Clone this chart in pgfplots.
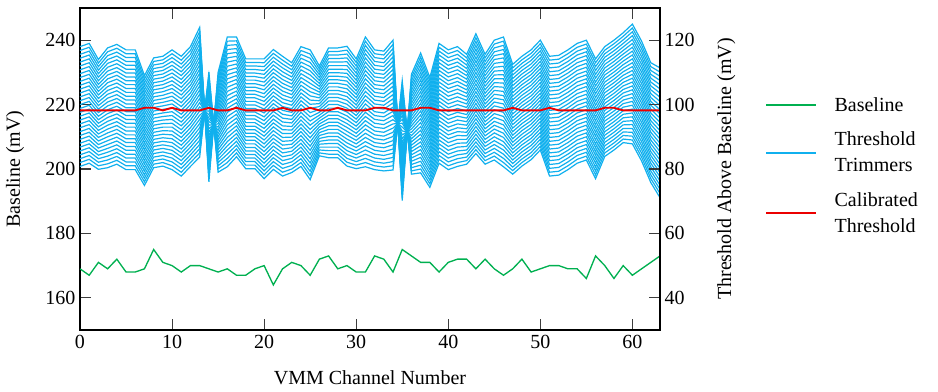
\documentclass[border=0pt]{standalone}
\usepackage{pgfplots}
\usepackage{pgfplotstable}
\pgfplotsset{compat=1.18}
\usepackage{fontspec}
\setmainfont{Liberation Serif}
\definecolor{trimblue}{RGB}{16,176,238}
\definecolor{basegreen}{RGB}{0,176,80}
\definecolor{calred}{RGB}{235,0,0}
\definecolor{tickgray}{RGB}{60,60,60}

\pgfplotstableread{
c t0 t1 t2 t3 t4 t5 t6 t7 t8 t9 t10 t11 t12 t13 t14 t15 t16 t17 t18 t19 t20 t21 t22 t23 t24 t25 t26 t27 t28 t29 t30 t31
0 238.0 236.8 235.6 234.4 233.2 232.0 230.8 229.6 228.4 227.2 226.0 224.8 223.6 222.4 221.2 220.0 218.8 217.6 216.4 215.2 214.0 212.8 211.6 210.4 209.2 208.0 206.8 205.6 204.4 203.2 202.0 200.8
1 239.0 237.8 236.6 235.4 234.2 233.0 231.8 230.6 229.4 228.2 227.0 225.8 224.6 223.4 222.2 221.0 219.8 218.6 217.4 216.2 215.0 213.8 212.6 211.4 210.2 209.0 207.8 206.6 205.4 204.2 203.0 201.8
2 234.0 232.9 231.8 230.7 229.6 228.5 227.4 226.3 225.2 224.1 223.0 221.9 220.8 219.7 218.6 217.5 216.4 215.3 214.2 213.1 212.0 210.9 209.8 208.7 207.6 206.5 205.4 204.3 203.2 202.1 201.0 199.9
3 237.6 236.4 235.2 234.0 232.8 231.6 230.4 229.2 228.0 226.8 225.6 224.4 223.2 222.0 220.8 219.6 218.4 217.2 216.0 214.8 213.6 212.4 211.2 210.0 208.8 207.6 206.4 205.2 204.0 202.8 201.6 200.4
4 238.7 237.5 236.3 235.1 233.9 232.7 231.5 230.3 229.1 227.9 226.7 225.5 224.3 223.1 221.9 220.7 219.5 218.3 217.1 215.9 214.7 213.5 212.3 211.1 209.9 208.7 207.5 206.3 205.1 203.9 202.7 201.5
5 237.0 235.8 234.6 233.4 232.2 231.0 229.8 228.6 227.4 226.2 225.0 223.8 222.6 221.4 220.2 219.0 217.8 216.6 215.4 214.2 213.0 211.8 210.6 209.4 208.2 207.0 205.8 204.6 203.4 202.2 201.0 199.8
6 237.0 235.8 234.6 233.4 232.2 231.0 229.8 228.6 227.4 226.2 225.0 223.8 222.6 221.4 220.2 219.0 217.8 216.6 215.4 214.2 213.0 211.8 210.6 209.4 208.2 207.0 205.8 204.6 203.4 202.2 201.0 199.8
7 229.0 227.9 226.8 225.7 224.6 223.5 222.4 221.3 220.2 219.1 218.0 216.9 215.8 214.7 213.6 212.5 211.4 210.3 209.2 208.1 207.0 205.9 204.8 203.7 202.6 201.5 200.4 199.3 198.2 197.1 196.0 194.9
8 234.5 233.4 232.3 231.2 230.1 229.0 227.9 226.8 225.7 224.6 223.5 222.4 221.3 220.2 219.1 218.0 216.9 215.8 214.7 213.6 212.5 211.4 210.3 209.2 208.1 207.0 205.9 204.8 203.7 202.6 201.5 200.4
9 235.0 233.9 232.8 231.7 230.6 229.5 228.4 227.3 226.2 225.1 224.0 222.9 221.8 220.7 219.6 218.5 217.4 216.3 215.2 214.1 213.0 211.9 210.8 209.7 208.6 207.5 206.4 205.3 204.2 203.1 202.0 200.9
10 237.0 235.8 234.6 233.4 232.2 231.0 229.8 228.6 227.4 226.2 225.0 223.8 222.6 221.4 220.2 219.0 217.8 216.6 215.4 214.2 213.0 211.8 210.6 209.4 208.2 207.0 205.8 204.6 203.4 202.2 201.0 199.8
11 235.0 233.8 232.6 231.4 230.2 229.0 227.8 226.6 225.4 224.2 223.0 221.8 220.6 219.4 218.2 217.0 215.8 214.6 213.4 212.2 211.0 209.8 208.6 207.4 206.2 205.0 203.8 202.6 201.4 200.2 199.0 197.8
12 238.0 236.8 235.6 234.4 233.2 232.0 230.8 229.6 228.4 227.2 226.0 224.8 223.6 222.4 221.2 220.0 218.8 217.6 216.4 215.2 214.0 212.8 211.6 210.4 209.2 208.0 206.8 205.6 204.4 203.2 202.0 200.8
13 244.0 242.7 241.4 240.1 238.8 237.5 236.2 234.9 233.6 232.3 231.0 229.7 228.4 227.1 225.8 224.5 223.2 221.9 220.6 219.3 218.0 216.7 215.4 214.1 212.8 211.5 210.2 208.9 207.6 206.3 205.0 203.7
14 196.0 197.1 198.2 199.3 200.4 201.5 202.6 203.7 204.8 205.9 207.0 208.1 209.2 210.3 211.4 212.5 213.6 214.7 215.8 216.9 218.0 219.1 220.2 221.3 222.4 223.5 224.6 225.7 226.8 227.9 229.0 230.1
15 230 229 228 227 226 225 224 223 222 221 220 219 218 217 216 215 214 213 212 211 210 209 208 207 206 205 204 203 202 201 200 199
16 241.0 239.7 238.4 237.1 235.8 234.5 233.2 231.9 230.6 229.3 228.0 226.7 225.4 224.1 222.8 221.5 220.2 218.9 217.6 216.3 215.0 213.7 212.4 211.1 209.8 208.5 207.2 205.9 204.6 203.3 202.0 200.7
17 241.0 239.8 238.6 237.4 236.2 235.0 233.8 232.6 231.4 230.2 229.0 227.8 226.6 225.4 224.2 223.0 221.8 220.6 219.4 218.2 217.0 215.8 214.6 213.4 212.2 211.0 209.8 208.6 207.4 206.2 205.0 203.8
18 234.2 233.1 232.0 230.9 229.8 228.7 227.6 226.5 225.4 224.3 223.2 222.1 221.0 219.9 218.8 217.7 216.6 215.5 214.4 213.3 212.2 211.1 210.0 208.9 207.8 206.7 205.6 204.5 203.4 202.3 201.2 200.1
19 234.2 233.1 232.0 230.9 229.8 228.7 227.6 226.5 225.4 224.3 223.2 222.1 221.0 219.9 218.8 217.7 216.6 215.5 214.4 213.3 212.2 211.1 210.0 208.9 207.8 206.7 205.6 204.5 203.4 202.3 201.2 200.1
20 234.2 233.0 231.8 230.6 229.4 228.2 227.0 225.8 224.6 223.4 222.2 221.0 219.8 218.6 217.4 216.2 215.0 213.8 212.6 211.4 210.2 209.0 207.8 206.6 205.4 204.2 203.0 201.8 200.6 199.4 198.2 197.0
21 237.1 235.9 234.7 233.5 232.3 231.1 229.9 228.7 227.5 226.3 225.1 223.9 222.7 221.5 220.3 219.1 217.9 216.7 215.5 214.3 213.1 211.9 210.7 209.5 208.3 207.1 205.9 204.7 203.5 202.3 201.1 199.9
22 235.0 233.8 232.6 231.4 230.2 229.0 227.8 226.6 225.4 224.2 223.0 221.8 220.6 219.4 218.2 217.0 215.8 214.6 213.4 212.2 211.0 209.8 208.6 207.4 206.2 205.0 203.8 202.6 201.4 200.2 199.0 197.8
23 233.0 231.9 230.8 229.7 228.6 227.5 226.4 225.3 224.2 223.1 222.0 220.9 219.8 218.7 217.6 216.5 215.4 214.3 213.2 212.1 211.0 209.9 208.8 207.7 206.6 205.5 204.4 203.3 202.2 201.1 200.0 198.9
24 238.0 236.8 235.6 234.4 233.2 232.0 230.8 229.6 228.4 227.2 226.0 224.8 223.6 222.4 221.2 220.0 218.8 217.6 216.4 215.2 214.0 212.8 211.6 210.4 209.2 208.0 206.8 205.6 204.4 203.2 202.0 200.8
25 237.0 235.7 234.4 233.1 231.8 230.5 229.2 227.9 226.6 225.3 224.0 222.7 221.4 220.1 218.8 217.5 216.2 214.9 213.6 212.3 211.0 209.7 208.4 207.1 205.8 204.5 203.2 201.9 200.6 199.3 198.0 196.7
26 232.0 231.1 230.2 229.3 228.4 227.5 226.6 225.7 224.8 223.9 223.0 222.1 221.2 220.3 219.4 218.5 217.6 216.7 215.8 214.9 214.0 213.1 212.2 211.3 210.4 209.5 208.6 207.7 206.8 205.9 205.0 204.1
27 237.6 236.5 235.4 234.3 233.2 232.1 231.0 229.9 228.8 227.7 226.6 225.5 224.4 223.3 222.2 221.1 220.0 218.9 217.8 216.7 215.6 214.5 213.4 212.3 211.2 210.1 209.0 207.9 206.8 205.7 204.6 203.5
28 237.6 236.5 235.4 234.3 233.2 232.1 231.0 229.9 228.8 227.7 226.6 225.5 224.4 223.3 222.2 221.1 220.0 218.9 217.8 216.7 215.6 214.5 213.4 212.3 211.2 210.1 209.0 207.9 206.8 205.7 204.6 203.5
29 238.1 236.9 235.7 234.5 233.3 232.1 230.9 229.7 228.5 227.3 226.1 224.9 223.7 222.5 221.3 220.1 218.9 217.7 216.5 215.3 214.1 212.9 211.7 210.5 209.3 208.1 206.9 205.7 204.5 203.3 202.1 200.9
30 234.2 233.1 232.0 230.9 229.8 228.7 227.6 226.5 225.4 224.3 223.2 222.1 221.0 219.9 218.8 217.7 216.6 215.5 214.4 213.3 212.2 211.1 210.0 208.9 207.8 206.7 205.6 204.5 203.4 202.3 201.2 200.1
31 241.0 239.7 238.4 237.1 235.8 234.5 233.2 231.9 230.6 229.3 228.0 226.7 225.4 224.1 222.8 221.5 220.2 218.9 217.6 216.3 215.0 213.7 212.4 211.1 209.8 208.5 207.2 205.9 204.6 203.3 202.0 200.7
32 237.0 235.8 234.6 233.4 232.2 231.0 229.8 228.6 227.4 226.2 225.0 223.8 222.6 221.4 220.2 219.0 217.8 216.6 215.4 214.2 213.0 211.8 210.6 209.4 208.2 207.0 205.8 204.6 203.4 202.2 201.0 199.8
33 236.6 235.4 234.2 233.0 231.8 230.6 229.4 228.2 227.0 225.8 224.6 223.4 222.2 221.0 219.8 218.6 217.4 216.2 215.0 213.8 212.6 211.4 210.2 209.0 207.8 206.6 205.4 204.2 203.0 201.8 200.6 199.4
34 240.0 238.7 237.4 236.1 234.8 233.5 232.2 230.9 229.6 228.3 227.0 225.7 224.4 223.1 221.8 220.5 219.2 217.9 216.6 215.3 214.0 212.7 211.4 210.1 208.8 207.5 206.2 204.9 203.6 202.3 201.0 199.7
35 190.2 191.4 192.6 193.8 195.0 196.2 197.4 198.6 199.8 201.0 202.2 203.4 204.6 205.8 207.0 208.2 209.4 210.6 211.8 213.0 214.2 215.4 216.6 217.8 219.0 220.2 221.4 222.6 223.8 225.0 226.2 227.4
36 229.4 228.4 227.4 226.4 225.4 224.4 223.4 222.4 221.4 220.4 219.4 218.4 217.4 216.4 215.4 214.4 213.4 212.4 211.4 210.4 209.4 208.4 207.4 206.4 205.4 204.4 203.4 202.4 201.4 200.4 199.4 198.4
37 236.0 234.8 233.6 232.4 231.2 230.0 228.8 227.6 226.4 225.2 224.0 222.8 221.6 220.4 219.2 218.0 216.8 215.6 214.4 213.2 212.0 210.8 209.6 208.4 207.2 206.0 204.8 203.6 202.4 201.2 200.0 198.8
38 228.4 227.3 226.2 225.1 224.0 222.9 221.8 220.7 219.6 218.5 217.4 216.3 215.2 214.1 213.0 211.9 210.8 209.7 208.6 207.5 206.4 205.3 204.2 203.1 202.0 200.9 199.8 198.7 197.6 196.5 195.4 194.3
39 239.0 237.8 236.6 235.4 234.2 233.0 231.8 230.6 229.4 228.2 227.0 225.8 224.6 223.4 222.2 221.0 219.8 218.6 217.4 216.2 215.0 213.8 212.6 211.4 210.2 209.0 207.8 206.6 205.4 204.2 203.0 201.8
40 237.0 235.8 234.6 233.4 232.2 231.0 229.8 228.6 227.4 226.2 225.0 223.8 222.6 221.4 220.2 219.0 217.8 216.6 215.4 214.2 213.0 211.8 210.6 209.4 208.2 207.0 205.8 204.6 203.4 202.2 201.0 199.8
41 238.0 236.8 235.6 234.4 233.2 232.0 230.8 229.6 228.4 227.2 226.0 224.8 223.6 222.4 221.2 220.0 218.8 217.6 216.4 215.2 214.0 212.8 211.6 210.4 209.2 208.0 206.8 205.6 204.4 203.2 202.0 200.8
42 235.6 234.5 233.4 232.3 231.2 230.1 229.0 227.9 226.8 225.7 224.6 223.5 222.4 221.3 220.2 219.1 218.0 216.9 215.8 214.7 213.6 212.5 211.4 210.3 209.2 208.1 207.0 205.9 204.8 203.7 202.6 201.5
43 242.0 240.8 239.6 238.4 237.2 236.0 234.8 233.6 232.4 231.2 230.0 228.8 227.6 226.4 225.2 224.0 222.8 221.6 220.4 219.2 218.0 216.8 215.6 214.4 213.2 212.0 210.8 209.6 208.4 207.2 206.0 204.8
44 235.6 234.5 233.4 232.3 231.2 230.1 229.0 227.9 226.8 225.7 224.6 223.5 222.4 221.3 220.2 219.1 218.0 216.9 215.8 214.7 213.6 212.5 211.4 210.3 209.2 208.1 207.0 205.9 204.8 203.7 202.6 201.5
45 240.0 238.8 237.6 236.4 235.2 234.0 232.8 231.6 230.4 229.2 228.0 226.8 225.6 224.4 223.2 222.0 220.8 219.6 218.4 217.2 216.0 214.8 213.6 212.4 211.2 210.0 208.8 207.6 206.4 205.2 204.0 202.8
46 241.0 239.7 238.4 237.1 235.8 234.5 233.2 231.9 230.6 229.3 228.0 226.7 225.4 224.1 222.8 221.5 220.2 218.9 217.6 216.3 215.0 213.7 212.4 211.1 209.8 208.5 207.2 205.9 204.6 203.3 202.0 200.7
47 232.5 231.4 230.3 229.2 228.1 227.0 225.9 224.8 223.7 222.6 221.5 220.4 219.3 218.2 217.1 216.0 214.9 213.8 212.7 211.6 210.5 209.4 208.3 207.2 206.1 205.0 203.9 202.8 201.7 200.6 199.5 198.4
48 235.0 233.9 232.8 231.7 230.6 229.5 228.4 227.3 226.2 225.1 224.0 222.9 221.8 220.7 219.6 218.5 217.4 216.3 215.2 214.1 213.0 211.9 210.8 209.7 208.6 207.5 206.4 205.3 204.2 203.1 202.0 200.9
49 237.0 235.9 234.8 233.7 232.6 231.5 230.4 229.3 228.2 227.1 226.0 224.9 223.8 222.7 221.6 220.5 219.4 218.3 217.2 216.1 215.0 213.9 212.8 211.7 210.6 209.5 208.4 207.3 206.2 205.1 204.0 202.9
50 240.0 238.9 237.8 236.7 235.6 234.5 233.4 232.3 231.2 230.1 229.0 227.9 226.8 225.7 224.6 223.5 222.4 221.3 220.2 219.1 218.0 216.9 215.8 214.7 213.6 212.5 211.4 210.3 209.2 208.1 207.0 205.9
51 235.0 233.8 232.6 231.4 230.2 229.0 227.8 226.6 225.4 224.2 223.0 221.8 220.6 219.4 218.2 217.0 215.8 214.6 213.4 212.2 211.0 209.8 208.6 207.4 206.2 205.0 203.8 202.6 201.4 200.2 199.0 197.8
52 235.3 234.1 232.9 231.7 230.5 229.3 228.1 226.9 225.7 224.5 223.3 222.1 220.9 219.7 218.5 217.3 216.1 214.9 213.7 212.5 211.3 210.1 208.9 207.7 206.5 205.3 204.1 202.9 201.7 200.5 199.3 198.1
53 237.0 235.8 234.6 233.4 232.2 231.0 229.8 228.6 227.4 226.2 225.0 223.8 222.6 221.4 220.2 219.0 217.8 216.6 215.4 214.2 213.0 211.8 210.6 209.4 208.2 207.0 205.8 204.6 203.4 202.2 201.0 199.8
54 239.0 237.8 236.6 235.4 234.2 233.0 231.8 230.6 229.4 228.2 227.0 225.8 224.6 223.4 222.2 221.0 219.8 218.6 217.4 216.2 215.0 213.8 212.6 211.4 210.2 209.0 207.8 206.6 205.4 204.2 203.0 201.8
55 240.0 238.8 237.6 236.4 235.2 234.0 232.8 231.6 230.4 229.2 228.0 226.8 225.6 224.4 223.2 222.0 220.8 219.6 218.4 217.2 216.0 214.8 213.6 212.4 211.2 210.0 208.8 207.6 206.4 205.2 204.0 202.8
56 234.2 233.0 231.8 230.6 229.4 228.2 227.0 225.8 224.6 223.4 222.2 221.0 219.8 218.6 217.4 216.2 215.0 213.8 212.6 211.4 210.2 209.0 207.8 206.6 205.4 204.2 203.0 201.8 200.6 199.4 198.2 197.0
57 238.0 236.9 235.8 234.7 233.6 232.5 231.4 230.3 229.2 228.1 227.0 225.9 224.8 223.7 222.6 221.5 220.4 219.3 218.2 217.1 216.0 214.9 213.8 212.7 211.6 210.5 209.4 208.3 207.2 206.1 205.0 203.9
58 240.0 238.9 237.8 236.7 235.6 234.5 233.4 232.3 231.2 230.1 229.0 227.9 226.8 225.7 224.6 223.5 222.4 221.3 220.2 219.1 218.0 216.9 215.8 214.7 213.6 212.5 211.4 210.3 209.2 208.1 207.0 205.9
59 242.3 241.2 240.1 239.0 237.9 236.8 235.7 234.6 233.5 232.4 231.3 230.2 229.1 228.0 226.9 225.8 224.7 223.6 222.5 221.4 220.3 219.2 218.1 217.0 215.9 214.8 213.7 212.6 211.5 210.4 209.3 208.2
60 245.0 243.8 242.6 241.4 240.2 239.0 237.8 236.6 235.4 234.2 233.0 231.8 230.6 229.4 228.2 227.0 225.8 224.6 223.4 222.2 221.0 219.8 218.6 217.4 216.2 215.0 213.8 212.6 211.4 210.2 209.0 207.8
61 239.7 238.5 237.3 236.1 234.9 233.7 232.5 231.3 230.1 228.9 227.7 226.5 225.3 224.1 222.9 221.7 220.5 219.3 218.1 216.9 215.7 214.5 213.3 212.1 210.9 209.7 208.5 207.3 206.1 204.9 203.7 202.5
62 233.0 231.8 230.6 229.4 228.2 227.0 225.8 224.6 223.4 222.2 221.0 219.8 218.6 217.4 216.2 215.0 213.8 212.6 211.4 210.2 209.0 207.8 206.6 205.4 204.2 203.0 201.8 200.6 199.4 198.2 197.0 195.8
63 231.4 230.1 228.8 227.5 226.2 224.9 223.6 222.3 221.0 219.7 218.4 217.1 215.8 214.5 213.2 211.9 210.6 209.3 208.0 206.7 205.4 204.1 202.8 201.5 200.2 198.9 197.6 196.3 195.0 193.7 192.4 191.1
}\trimtab

\pgfplotstableread{
c base cal
0 169 218.2
1 167 218.2
2 171 218.2
3 169 218.2
4 172 218.2
5 168 218.2
6 168 218.2
7 169 219.0
8 175 219.0
9 171 218.2
10 170 219.0
11 168 218.2
12 170 218.2
13 170 218.2
14 169 219.0
15 168 218.2
16 169 218.2
17 167 219.0
18 167 218.2
19 169 218.2
20 170 218.2
21 164 218.2
22 169 219.0
23 171 218.2
24 170 218.2
25 167 219.0
26 172 218.2
27 173 218.2
28 169 219.0
29 170 218.2
30 168 218.2
31 168 218.2
32 173 219.0
33 172 219.0
34 168 218.2
35 175 218.2
36 173 218.2
37 171 219.0
38 171 219.0
39 168 218.2
40 171 218.2
41 172 218.2
42 172 218.2
43 169 218.2
44 172 218.2
45 169 218.2
46 167 218.2
47 169 219.0
48 172 218.2
49 168 218.2
50 169 218.2
51 170 219.0
52 170 218.2
53 169 218.2
54 169 218.2
55 166 218.2
56 173 218.2
57 170 219.0
58 166 219.0
59 170 218.2
60 167 218.2
61 169 218.2
62 171 218.2
63 173 218.2
}\basetab

\begin{document}
\begin{tikzpicture}[font=\fontsize{15}{19.5}\selectfont]
\pgfplotsset{
  common/.style={
    width=435pt, height=241.5pt, scale only axis,
    xmin=0, xmax=63,
    tick align=inside,
    major tick length=8pt,
    tick style={color=tickgray, line width=0.8pt},
    axis line style={line width=1.2pt},
    tick label style={font=\fontsize{15}{18}\selectfont},
    label style={font=\fontsize{15}{18}\selectfont},
    /pgf/number format/assume math mode=true,
  },
}
\begin{axis}[common, name=ax,
  ymin=150, ymax=250,
  ytick={160,180,...,240},
  xtick={0,10,...,60},
  xtick pos=both, ytick pos=left,
  xlabel={VMM Channel Number},
  ylabel={Baseline (mV)},
  xlabel style={yshift=-10pt},
  ylabel style={yshift=9pt},
  legend style={draw=none, fill=none, at={(1.181,0.51)}, anchor=west,
    inner sep=0pt, font=\fontsize{15}{19.5}\selectfont,
    nodes={align=left},
    /tikz/every odd column/.append style={column sep=11pt},
    row sep=10pt},
  legend cell align=left,
]
\pgfplotsinvokeforeach{0,...,31}{
  \addplot[trimblue, line width=0.9pt, forget plot] table[x=c, y=t#1]{\trimtab};
}
\addplot[calred, line width=1.4pt, forget plot] table[x=c, y=cal]{\basetab};
\addplot[basegreen, line width=1pt, forget plot] table[x=c, y=base]{\basetab};
\addlegendimage{legend image code/.code={\draw[draw=basegreen, line width=1.5pt] (0pt,0pt) -- (37.5pt,0pt);}}
\addlegendentry{Baseline}
\addlegendimage{legend image code/.code={\draw[draw=trimblue, line width=1.5pt] (0pt,0pt) -- (37.5pt,0pt);}}
\addlegendentry{Threshold\\Trimmers}
\addlegendimage{legend image code/.code={\draw[draw=calred, line width=1.5pt] (0pt,0pt) -- (37.5pt,0pt);}}
\addlegendentry{Calibrated\\Threshold}
\end{axis}
\begin{axis}[common,
  ymin=30, ymax=130,
  ytick={40,60,...,120},
  hide x axis,
  axis y line*=right,
  ytick pos=right,
  ylabel={Threshold Above Baseline (mV)},
  ylabel style={yshift=-10pt},
]
\addplot[draw=none, forget plot] coordinates {(0,30)};
\end{axis}
\pgfresetboundingbox
\path[use as bounding box] ([shift={(-60pt,-46.5pt)}]ax.south west) rectangle ([shift={(208.5pt,6pt)}]ax.north east);
\end{tikzpicture}
\end{document}
